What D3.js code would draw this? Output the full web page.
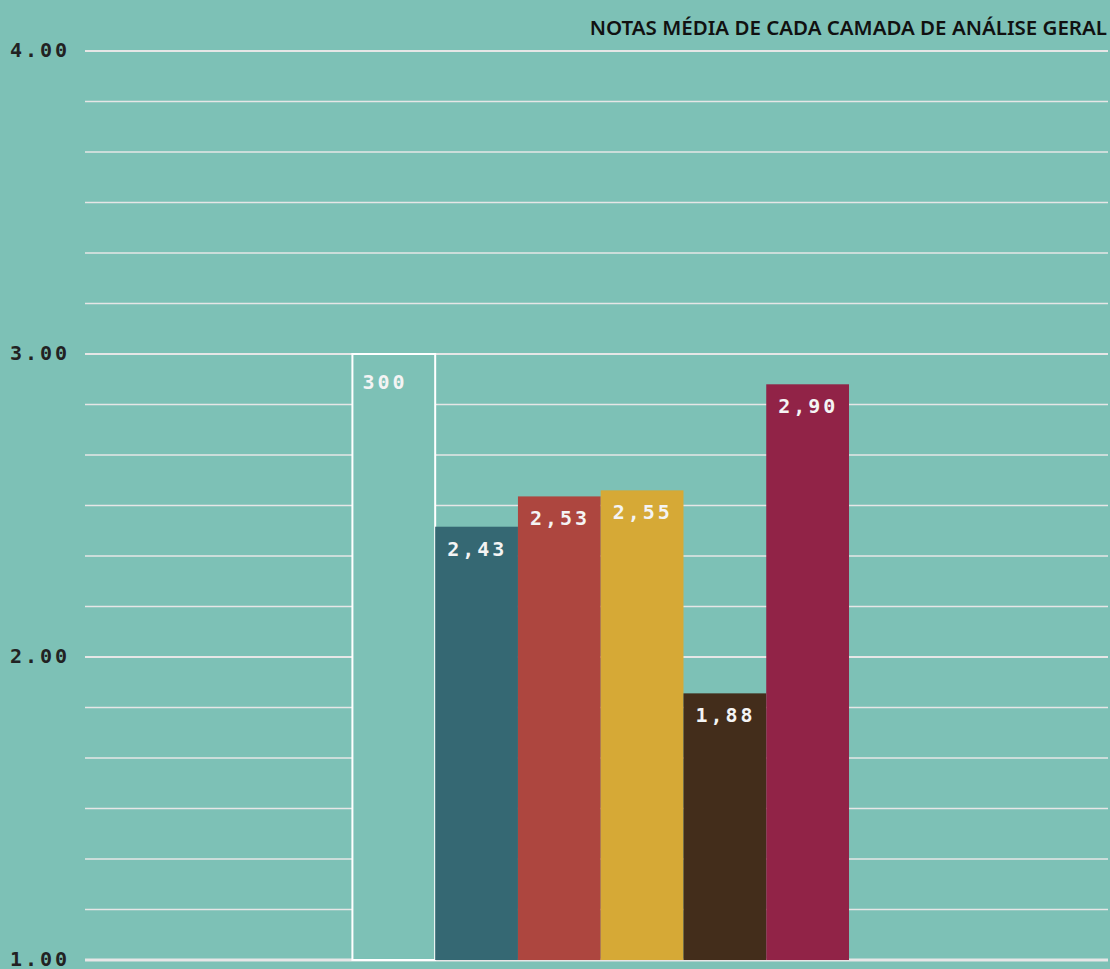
<!DOCTYPE html>
<html>
<head>
<meta charset="utf-8">
<script src="https://cdn.jsdelivr.net/npm/d3@7"></script>
<style>
  html, body { margin: 0; padding: 0; background: #7dc1b6; }
  #chart { width: 1110px; height: 969px; }
</style>
</head>
<body>
<div id="chart"></div>
<script>
const title = "NOTAS MÉDIA DE CADA CAMADA DE ANÁLISE GERAL";
const categories = ["geral", "camada1", "camada2", "camada3", "camada4", "camada5"];
const values = [3.00, 2.43, 2.53, 2.55, 1.88, 2.90];
const valueLabels = ["300", "2,43", "2,53", "2,55", "1,88", "2,90"];
const colors = ["#7dc1b6", "#356873", "#ad463f", "#d6a936", "#432d1b", "#912347"];
const yTicks = [1, 2, 3, 4];
const yTickLabels = ["1.00", "2.00", "3.00", "4.00"];

const width = 1110, height = 969;
const margin = { top: 51, right: 2, bottom: 9, left: 85 };
const bg = "#7dc1b6";

const svg = d3.select("#chart").append("svg")
    .attr("width", width)
    .attr("height", height)
    .style("background-color", bg);

const x = d3.scaleBand()
    .domain(categories)
    .range([margin.left, width - margin.right])
    .paddingInner(0)
    .paddingOuter(3.18)
    .align(0.508);

const y = d3.scaleLinear()
    .domain([1, 4])
    .range([height - margin.bottom, margin.top]);

// linhas de grade a cada 1/6
const gridVals = d3.range(0, 19).map(i => 1 + i / 6);
svg.append("g").attr("class", "grid")
    .selectAll("line")
    .data(gridVals)
    .join("line")
    .attr("x1", margin.left)
    .attr("x2", width - margin.right)
    .attr("y1", d => y(d))
    .attr("y2", d => y(d))
    .attr("stroke", "#e6e6e6")
    .attr("stroke-width", (d, i) => i === 0 ? 3 : (i % 6 === 0 ? 2 : 1.3));

// eixo y
const yAxis = svg.append("g")
    .attr("transform", `translate(${margin.left},0)`)
    .call(d3.axisLeft(y).tickValues(yTicks).tickFormat((d, i) => yTickLabels[i]).tickSize(0).tickPadding(0));
yAxis.select(".domain").remove();
yAxis.selectAll("text")
    .attr("x", -75)
    .attr("dy", "0.28em")
    .attr("text-anchor", "start")
    .style("font-family", "'DejaVu Sans Mono', monospace")
    .style("font-weight", "bold")
    .style("font-size", "20px")
    .style("letter-spacing", "3px")
    .style("fill", "#222");

// barras
const bars = svg.append("g").attr("class", "bars");
bars.selectAll("rect")
    .data(values)
    .join("rect")
    .attr("x", (d, i) => x(categories[i]))
    .attr("y", d => y(d))
    .attr("width", x.bandwidth())
    .attr("height", d => y(1) - y(d))
    .attr("fill", (d, i) => colors[i])
    .attr("stroke", (d, i) => i === 0 ? "#ffffff" : "none")
    .attr("stroke-width", 2);

bars.selectAll("text")
    .data(values)
    .join("text")
    .attr("x", (d, i) => x(categories[i]) + (i === 0 ? 10 : 12))
    .attr("y", (d, i) => y(d) + (i === 0 ? 35 : 29))
    .text((d, i) => valueLabels[i])
    .style("font-family", "'DejaVu Sans Mono', monospace")
    .style("font-weight", "bold")
    .style("font-size", "20px")
    .style("letter-spacing", "3px")
    .style("fill", "#f4f4f4");

// título
svg.append("text")
    .attr("x", width - 3)
    .attr("y", 35)
    .attr("text-anchor", "end")
    .text(title)
    .style("font-family", "'Noto Sans', sans-serif")
    .style("font-weight", "600")
    .style("font-size", "20.5px")
    .style("fill", "#111");
</script>
</body>
</html>
